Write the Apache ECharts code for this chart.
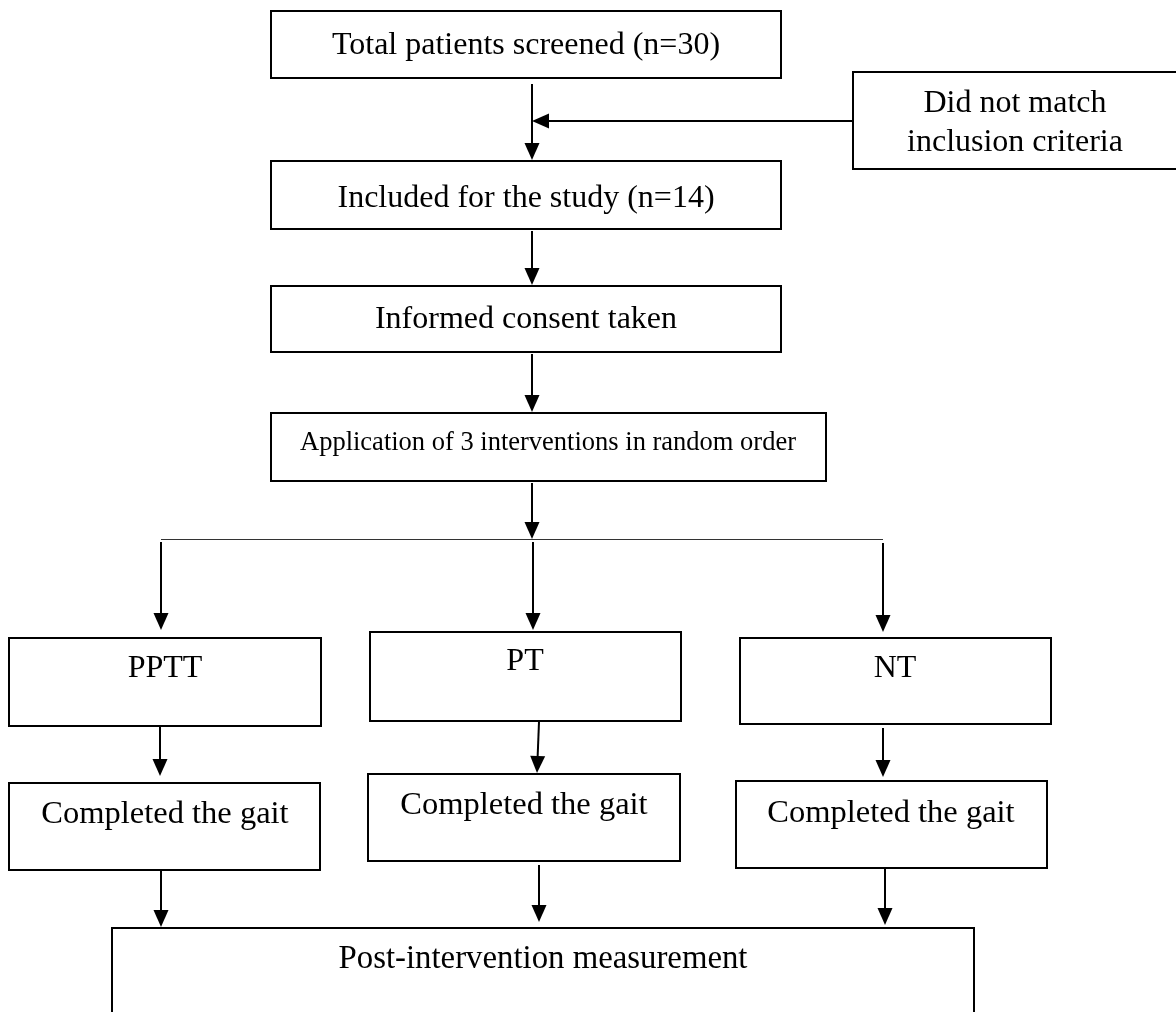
<!DOCTYPE html>
<html>
<head>
<meta charset="utf-8">
<script src="https://cdn.jsdelivr.net/npm/echarts@6/dist/echarts.min.js"></script>
<style>
html,body{margin:0;padding:0;background:#fff;}
#chart{width:1176px;height:1012px;}
</style>
</head>
<body>
<div id="chart"></div>
<script>
// ---- Flowchart content ----
const nodeLabels = [
  'Total patients screened (n=30)',
  'Did not match\ninclusion criteria',
  'Included for the study (n=14)',
  'Informed consent taken',
  'Application of 3 interventions in random order',
  'PPTT',
  'PT',
  'NT',
  'Completed the gait',
  'Completed the gait',
  'Completed the gait',
  'Post-intervention measurement'
];
// node rectangles in diagram units
const nodeLeft   = [271, 853, 271, 271, 271,   9, 370, 740,   9, 368, 736, 112];
const nodeTop    = [ 11,  72, 161, 286, 413, 638, 632, 638, 783, 774, 781, 928];
const nodeRight  = [781, 1180, 781, 781, 826, 321, 681, 1051, 320, 680, 1047, 974];
const nodeBottom = [ 78, 169, 229, 352, 481, 726, 721, 724, 870, 861, 868, 1030];
// label anchor inside each node
const labelX = [526, 1015, 526, 526, 548, 165, 525, 895, 165, 524, 891, 543];
const labelY = [ 46,  123, 199, 320, 443, 669, 662, 669, 814, 805, 813, 959];
const labelSize = [32, 32, 32, 32, 26.5, 32, 32, 32, 32.5, 32.5, 32.5, 32.8];

// arrows: from (x1,y1) to tip (x2,y2)
const arrowX1 = [532, 853, 532, 532, 532, 161, 533, 883, 160, 539, 883, 161, 539, 885];
const arrowY1 = [ 84, 121, 231, 354, 483, 542, 542, 543, 727, 722, 728, 871, 865, 869];
const arrowX2 = [532, 532, 532, 532, 532, 161, 533, 883, 160, 537, 883, 161, 539, 885];
const arrowY2 = [160, 121, 285, 412, 539, 630, 630, 632, 776, 773, 777, 927, 922, 925];

// branching connector
const branchX = [161, 883];
const branchY = [539, 539];

const FONT_FAMILY = "'Liberation Serif', 'Times New Roman', serif";

const nodeData = nodeLabels.map((t, i) => [nodeLeft[i], nodeTop[i], nodeRight[i], nodeBottom[i], labelX[i], labelY[i], labelSize[i], t]);
const arrowData = arrowX1.map((x, i) => [x, arrowY1[i], arrowX2[i], arrowY2[i]]);

const chart = echarts.init(document.getElementById('chart'), null, {renderer: 'canvas'});

chart.setOption({
  backgroundColor: '#ffffff',
  animation: false,
  grid: {left: 0, right: 0, top: 0, bottom: 0},
  xAxis: {type: 'value', min: 0, max: 1176, show: false},
  yAxis: {type: 'value', min: 0, max: 1012, inverse: true, show: false},
  series: [
    {
      type: 'custom',
      name: 'connector',
      coordinateSystem: 'cartesian2d',
      data: [[branchX[0], branchY[0], branchX[1], branchY[1]]],
      renderItem: function (params, api) {
        const a = api.coord([api.value(0), api.value(1)]);
        const b = api.coord([api.value(2), api.value(3)]);
        return {
          type: 'line',
          shape: {x1: a[0], y1: a[1] + 0.5, x2: b[0], y2: b[1] + 0.5},
          style: {stroke: '#333', lineWidth: 1}
        };
      },
      z: 1
    },
    {
      type: 'custom',
      name: 'nodes',
      coordinateSystem: 'cartesian2d',
      data: nodeData,
      renderItem: function (params, api) {
        const d = nodeData[params.dataIndex];
        const p0 = api.coord([d[0], d[1]]);
        const p1 = api.coord([d[2], d[3]]);
        const pt = api.coord([d[4], d[5]]);
        return {
          type: 'group',
          children: [
            {
              type: 'rect',
              shape: {x: p0[0], y: p0[1], width: p1[0] - p0[0], height: p1[1] - p0[1]},
              style: {fill: '#ffffff', stroke: '#000000', lineWidth: 2}
            },
            {
              type: 'text',
              style: {
                text: d[7],
                x: pt[0],
                y: pt[1],
                align: 'center',
                verticalAlign: 'middle',
                fontFamily: FONT_FAMILY,
                fontSize: d[6],
                lineHeight: 39,
                fill: '#000000'
              }
            }
          ]
        };
      },
      z: 2
    },
    {
      type: 'custom',
      name: 'arrows',
      coordinateSystem: 'cartesian2d',
      data: arrowData,
      renderItem: function (params, api) {
        const a = api.coord([api.value(0), api.value(1)]);
        const b = api.coord([api.value(2), api.value(3)]);
        const dx = b[0] - a[0], dy = b[1] - a[1];
        const len = Math.sqrt(dx * dx + dy * dy);
        const ux = dx / len, uy = dy / len;
        const headL = 17, headW = 7.5;
        const bx = b[0] - ux * headL, by = b[1] - uy * headL;
        const nx = -uy, ny = ux;
        return {
          type: 'group',
          children: [
            {
              type: 'line',
              shape: {x1: a[0], y1: a[1], x2: bx + ux * 2, y2: by + uy * 2},
              style: {stroke: '#000000', lineWidth: 2}
            },
            {
              type: 'polygon',
              shape: {points: [[b[0], b[1]], [bx + nx * headW, by + ny * headW], [bx - nx * headW, by - ny * headW]]},
              style: {fill: '#000000'}
            }
          ]
        };
      },
      z: 3
    }
  ]
});
</script>
</body>
</html>
